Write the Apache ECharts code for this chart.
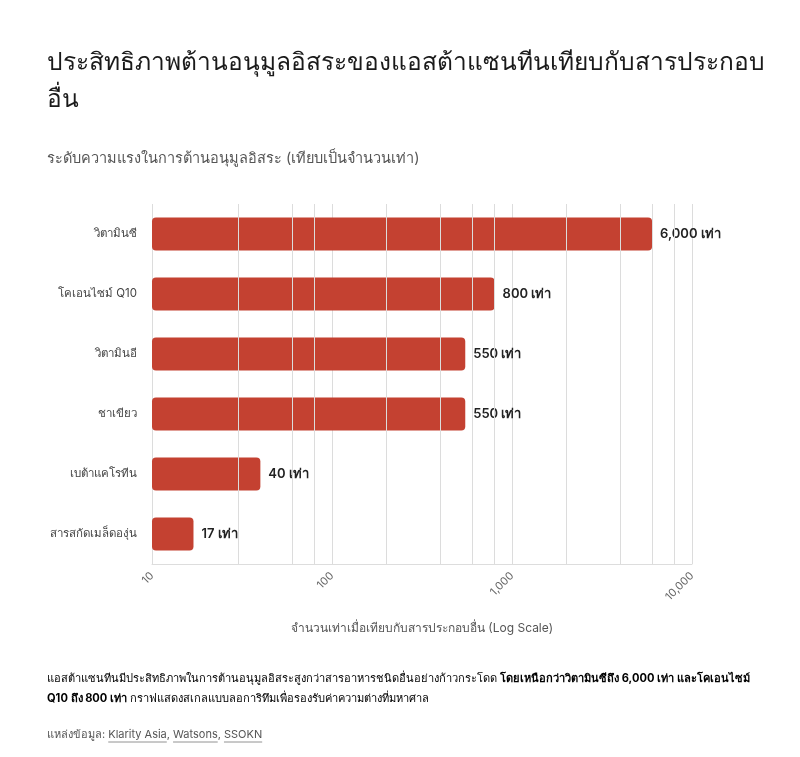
<!DOCTYPE html>
<html>
<head>
<meta charset="utf-8">
<script src="https://cdn.jsdelivr.net/npm/echarts@6/dist/echarts.min.js"></script>
<style>
html,body{margin:0;padding:0;background:#fff;}
#c{width:800px;height:757px;}
</style>
</head>
<body>
<div id="c"></div>
<script>
const categories = ['วิตามินซี', 'โคเอนไซม์ Q10', 'วิตามินอี', 'ชาเขียว', 'เบต้าแคโรทีน', 'สารสกัดเมล็ดองุ่น'];
const values = [6000, 800, 550, 550, 40, 17];
const minorGridValues = [30, 60, 80, 200, 400, 600, 800, 2000, 4000, 6000, 8000];
const unit = 'เท่า';
const sourcePrefix = 'แหล่งข้อมูล: ';
const sources = ['Klarity Asia', 'Watsons', 'SSOKN'];

const FONT = "Inter, 'Noto Sans', 'DejaVu Sans', sans-serif";
const chart = echarts.init(document.getElementById('c'), null, {renderer: 'canvas'});

// underline positions for source names (measured)
const SRC_SIZE = 11, SRC_LEFT = 47, SRC_TOP = 729;
const ctx = document.createElement('canvas').getContext('2d');
ctx.font = SRC_SIZE + 'px ' + FONT;
const sourceText = sourcePrefix + sources.join(', ');
const underlines = [];
let acc = sourcePrefix;
sources.forEach((s, i) => {
  const x0 = SRC_LEFT + ctx.measureText(acc).width;
  const x1 = x0 + ctx.measureText(s).width;
  underlines.push({type: 'line', shape: {x1: x0, y1: SRC_TOP + 13, x2: x1, y2: SRC_TOP + 13},
    style: {stroke: '#777', lineWidth: 0.8}, silent: true});
  acc += s + (i < sources.length - 1 ? ', ' : '');
});

chart.setOption({
  backgroundColor: '#ffffff',
  animation: false,
  textStyle: {fontFamily: FONT},
  title: [{
    text: 'ประสิทธิภาพต้านอนุมูลอิสระของแอสต้าแซนทีนเทียบกับสารประกอบ\nอื่น',
    left: 47, top: 44, padding: 0,
    textStyle: {fontSize: 24.5, fontWeight: 'normal', color: '#1a1a1a', lineHeight: 37, fontFamily: FONT}
  }, {
    text: 'ระดับความแรงในการต้านอนุมูลอิสระ (เทียบเป็นจำนวนเท่า)',
    left: 47, top: 151, padding: 0,
    textStyle: {fontSize: 14.5, fontWeight: 'normal', color: '#555', fontFamily: FONT}
  }],
  grid: {left: 152, right: 108, top: 204, bottom: 193, containLabel: false},
  xAxis: {
    type: 'log', logBase: 10, min: 10, max: 10000,
    name: 'จำนวนเท่าเมื่อเทียบกับสารประกอบอื่น (Log Scale)',
    nameLocation: 'middle', nameGap: 58,
    nameTextStyle: {fontSize: 12, color: '#555'},
    axisLine: {show: true, lineStyle: {color: '#ddd'}},
    axisTick: {show: false},
    axisLabel: {rotate: 45, color: '#666', fontSize: 11, margin: 10,
      formatter: v => Number(v).toLocaleString('en-US')},
    splitLine: {show: true, lineStyle: {color: '#dcdcdc', width: 1}}
  },
  yAxis: {
    type: 'category', data: categories, inverse: true,
    axisLine: {show: false}, axisTick: {show: false},
    axisLabel: {color: '#444', fontSize: 11.5, margin: 15}
  },
  series: [{
    type: 'line', data: [], z: 1, silent: true,
    markLine: {
      silent: true, symbol: 'none', animation: false,
      label: {show: false},
      lineStyle: {color: '#dcdcdc', width: 1, type: 'solid'},
      data: minorGridValues.map(v => ({xAxis: v}))
    }
  }, {
    type: 'bar', data: values, z: 3, barWidth: 33,
    itemStyle: {color: '#C44131', borderRadius: 4},
    label: {show: true, position: 'right', distance: 8, color: '#222', fontSize: 13, fontWeight: 600,
      formatter: p => Number(p.value).toLocaleString('en-US') + ' ' + unit}
  }],
  graphic: [{
    type: 'text', left: 47, top: 673,
    style: {
      text: '{n|แอสต้าแซนทีนมีประสิทธิภาพในการต้านอนุมูลอิสระสูงกว่าสารอาหารชนิดอื่นอย่างก้าวกระโดด }{b|โดยเหนือกว่าวิตามินซีถึง 6,000 เท่า และโคเอนไซม์}\n{b|Q10 ถึง 800 เท่า}{n| กราฟแสดงสเกลแบบลอการิทึมเพื่อรองรับค่าความต่างที่มหาศาล}',
      rich: {
        n: {fontSize: 11.1, color: '#555', fontFamily: FONT, lineHeight: 20},
        b: {fontSize: 11.1, color: '#333', fontWeight: 'bold', fontFamily: FONT, lineHeight: 20}
      }
    }
  }, {
    type: 'text', left: SRC_LEFT, top: SRC_TOP,
    style: {text: sourceText, fontSize: SRC_SIZE, fill: '#555', fontFamily: FONT}
  }].concat(underlines)
});
</script>
</body>
</html>
